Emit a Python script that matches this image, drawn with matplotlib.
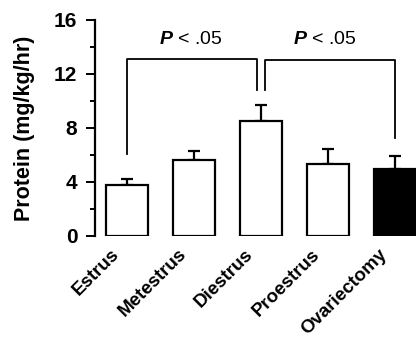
import numpy as np
import matplotlib
matplotlib.use("Agg")
import matplotlib.pyplot as plt
from matplotlib.transforms import ScaledTranslation

plt.rcParams['font.family'] = ['Liberation Sans Narrow', 'Liberation Sans', 'DejaVu Sans']
plt.rcParams['font.weight'] = 'bold'
plt.rcParams['axes.labelweight'] = 'bold'
plt.rcParams['mathtext.fontset'] = 'custom'
plt.rcParams['mathtext.it'] = 'Liberation Sans:italic'

groups = ["Estrus", "Metestrus", "Diestrus", "Proestrus", "Ovariectomy"]
protein = [3.75, 5.6, 8.5, 5.3, 4.95]
sem = [0.5, 0.7, 1.2, 1.15, 0.95]
fills = ["white", "white", "white", "white", "black"]

# significance brackets: (left bar, right bar, left foot, right foot, height)
brackets = [(0, 2, 6.1, 10.8, 13.1), (2, 4, 10.8, 7.25, 13.05)]

fig = plt.figure(figsize=(4.16, 3.38), dpi=100)
ax = fig.add_axes([0.228, 0.302, 0.772, 0.639])

x = np.arange(len(groups))
ax.bar(x, protein, width=0.63, color=fills, edgecolor="black", linewidth=1.6, zorder=2)
ax.errorbar(x, protein, yerr=[np.zeros(len(sem)), sem], fmt="none", ecolor="black",
            elinewidth=1.6, capsize=4.5, capthick=1.6, zorder=1)

gap = 0.06
for i, (a, b, ya, yb, h) in enumerate(brackets):
    xa = a + (gap if i == 1 else 0)
    xb = b - (gap if i == 0 else 0)
    ax.plot([xa, xa, xb, xb], [ya, h, h, yb], color="black", lw=1.3, clip_on=False)
    ax.text((a + b) / 2 - 0.05, 13.9, r"$\mathit{P}$ < .05", ha="center", va="bottom",
            fontsize=14, fontweight="normal", family="Liberation Sans")

ax.set_xlim(-0.487, 4.32)
ax.set_ylim(0, 16)
ax.set_yticks([0, 4, 8, 12, 16])
ax.set_yticks([2, 6, 10, 14], minor=True)
ax.tick_params(axis="y", which="major", length=6.5, width=1.4, labelsize=15, pad=6)
ax.tick_params(axis="y", which="minor", length=3.5, width=1.4)
ax.set_xticks(x)
ax.set_xticklabels(groups, rotation=45, ha="right", rotation_mode="anchor", fontsize=13.5)
ax.tick_params(axis="x", length=0, pad=7)
for lab in ax.get_xticklabels():
    lab.set_transform(lab.get_transform() + ScaledTranslation(-12 / 72, 0, fig.dpi_scale_trans))
ax.set_ylabel("Protein (mg/kg/hr)", fontsize=15.5, labelpad=14)

for s in ["top", "right", "bottom"]:
    ax.spines[s].set_visible(False)
ax.spines["left"].set_linewidth(1.6)

fig.savefig("out.png", dpi=100)
